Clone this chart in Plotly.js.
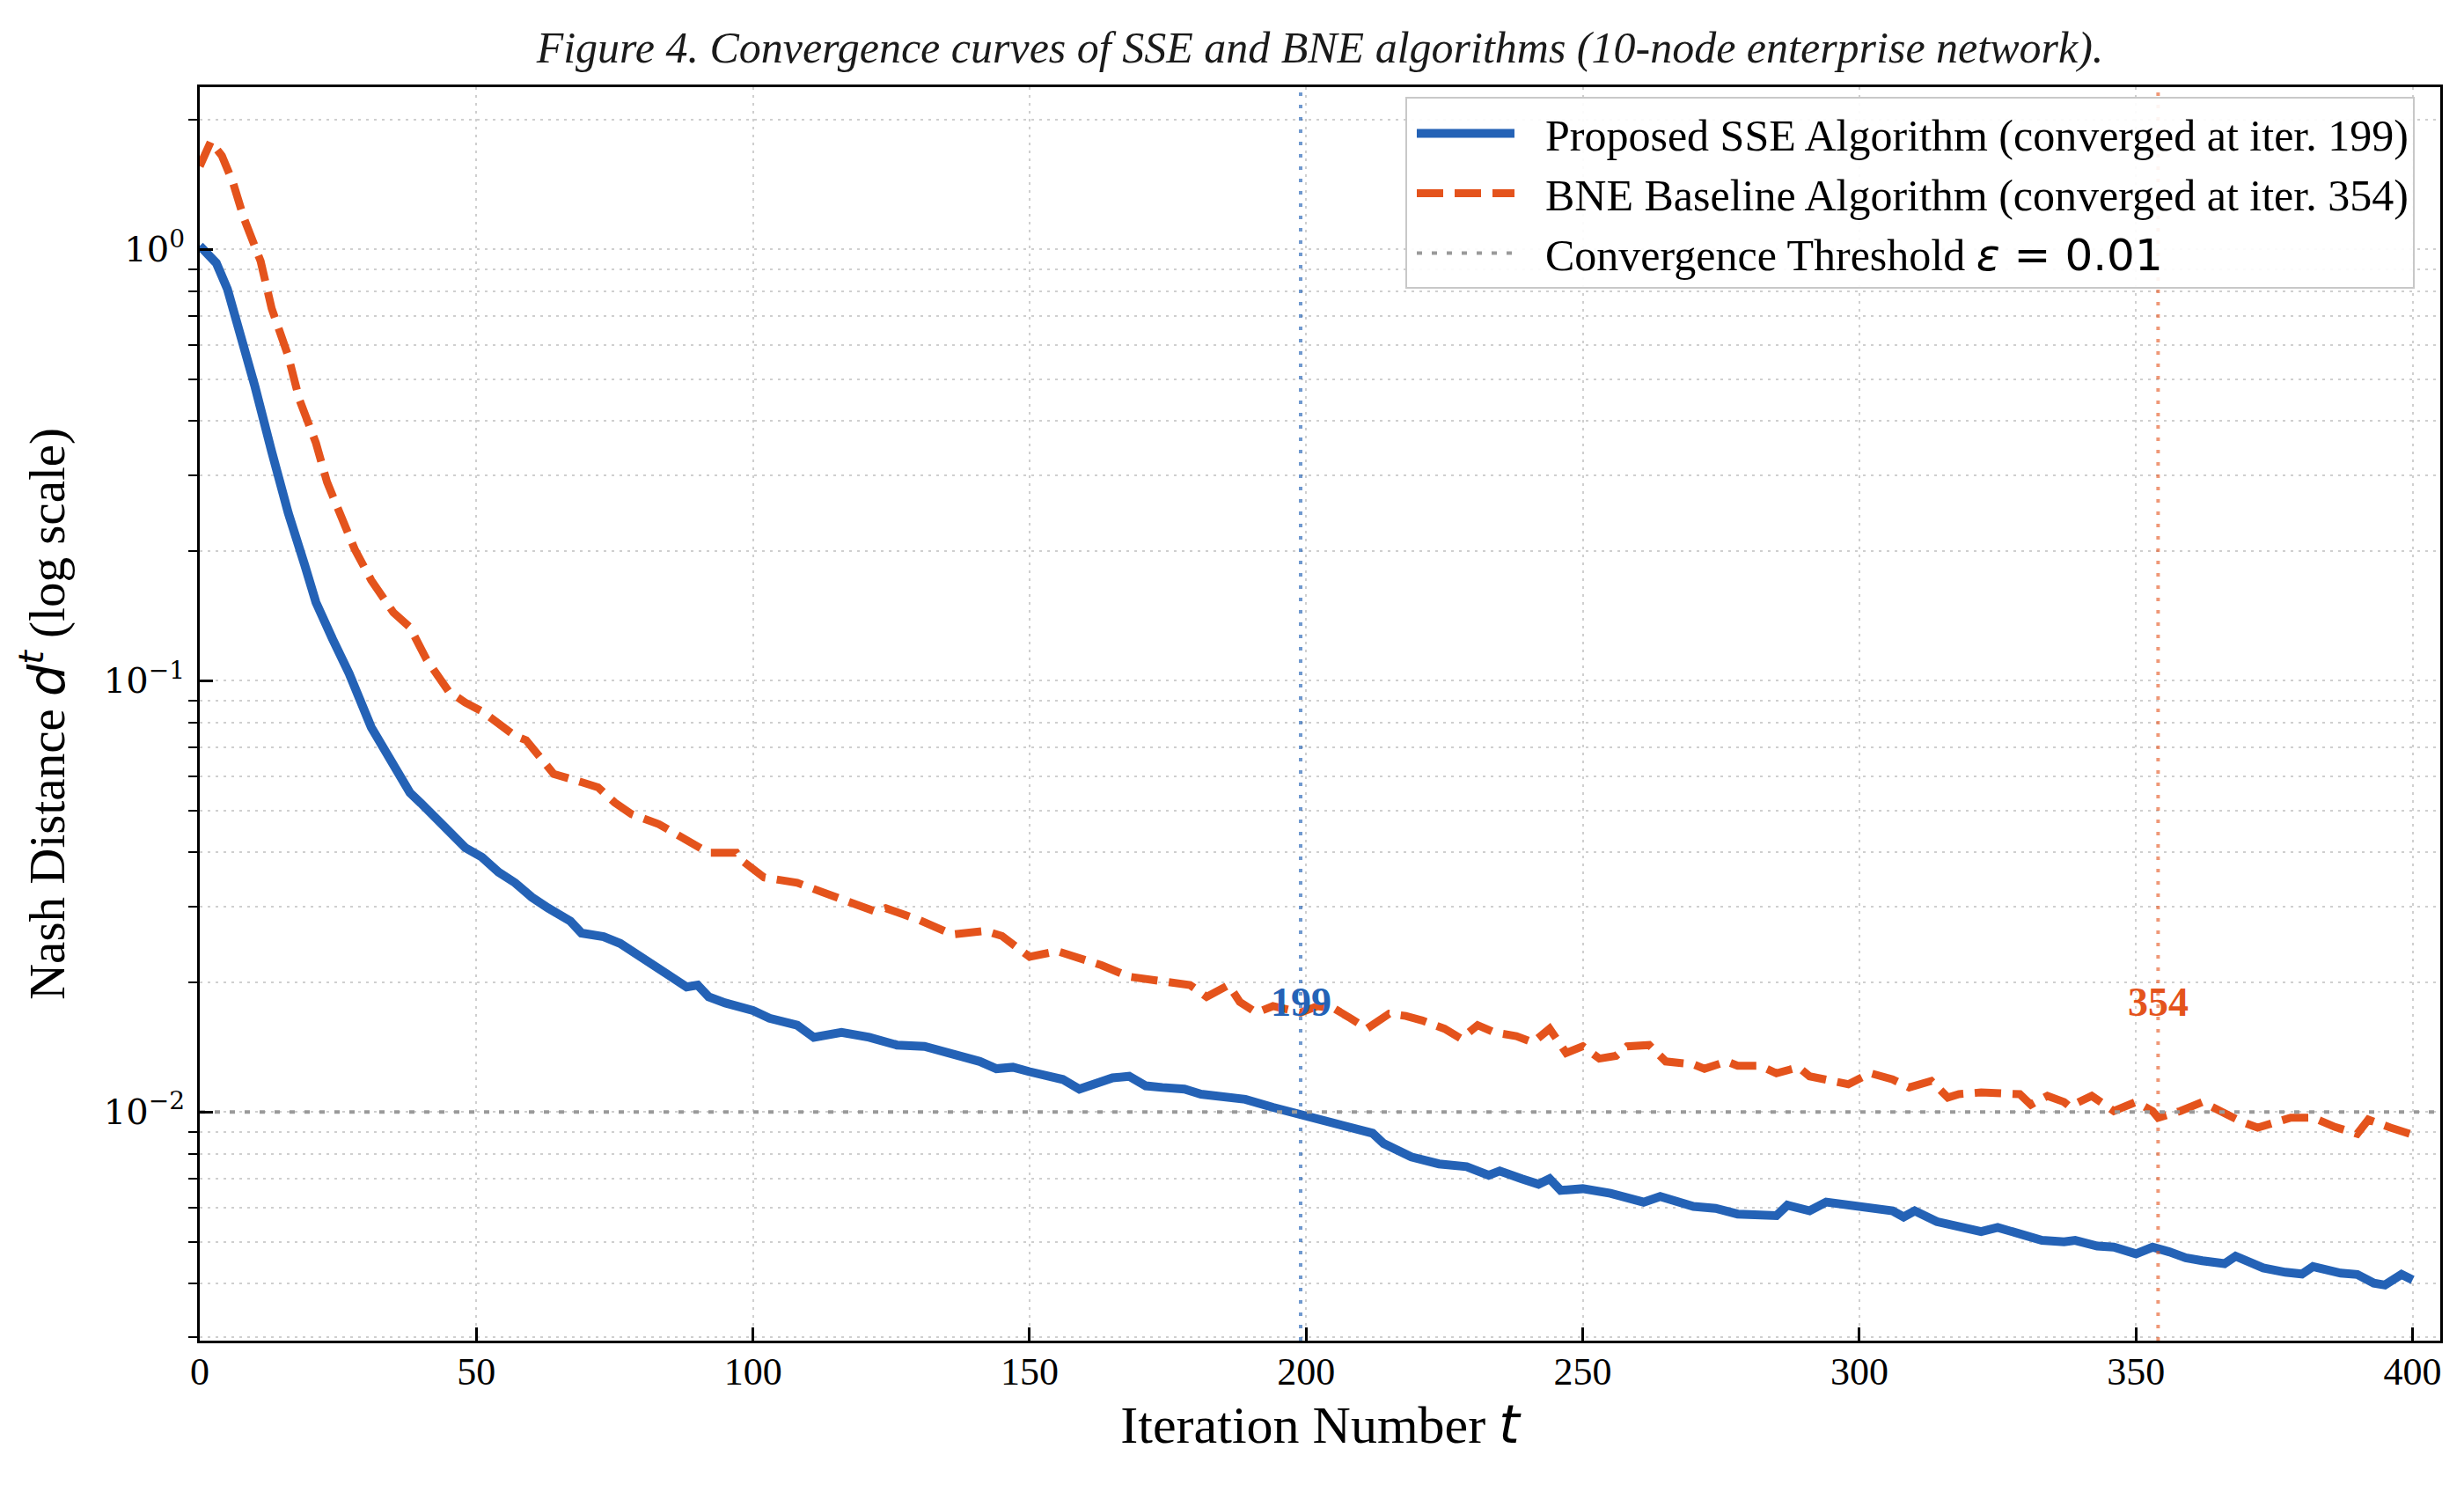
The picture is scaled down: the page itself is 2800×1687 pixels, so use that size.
<!DOCTYPE html>
<html>
<head>
<meta charset="utf-8">
<script src="https://cdn.plot.ly/plotly-3.0.1.min.js"></script>
<style>html,body{margin:0;padding:0;background:#fff;}#chart{width:2800px;height:1687px;}</style>
</head>
<body>
<div id="chart"></div>
<script>
// ---------------- data ----------------
const iterSSE = [0,3,5,7,10,13,16,19,21,24,27,31,35,38,40,42,45,48,51,54,57,60,63,67,69,73,76,80,84,88,90,92,95,100,103,108,111,116,121,126,131,136,138,141,144,147,150,153,156,159,162,165,168,171,174,178,181,186,189,194,199,204,209,212,214,219,224,229,233,235,239,242,244,246,250,255,261,264,270,274,278,283,285,287,291,294,298,302,306,308,310,314,318,322,325,329,333,337,339,343,346,350,353,356,359,362,366,368,373,377,380,382,387,390,393,395,398,400];
const distSSE = [1.02,0.93,0.81,0.66,0.48,0.34,0.245,0.185,0.152,0.125,0.104,0.078,0.064,0.055,0.052,0.049,0.045,0.041,0.039,0.036,0.034,0.0315,0.0297,0.0277,0.026,0.0255,0.0246,0.0227,0.0211,0.0195,0.0197,0.0185,0.0179,0.0172,0.0165,0.0159,0.0149,0.0153,0.0149,0.0143,0.0142,0.0136,0.0133,0.0131,0.0126,0.0127,0.0124,0.0121,0.0119,0.0113,0.0116,0.0120,0.0121,0.0115,0.0114,0.0113,0.0110,0.0108,0.0107,0.01025,0.00987,0.00954,0.00923,0.00893,0.00845,0.00787,0.00758,0.00747,0.00713,0.0073,0.0070,0.0068,0.0070,0.00658,0.00664,0.00648,0.00618,0.00637,0.00604,0.00598,0.0058,0.0058,0.00575,0.00608,0.0059,0.00618,0.0061,0.0060,0.0059,0.00571,0.0059,0.00557,0.0054,0.00528,0.0054,0.0052,0.00504,0.0050,0.00504,0.00489,0.00486,0.00469,0.00486,0.00474,0.00459,0.00452,0.00445,0.00463,0.00435,0.00425,0.00421,0.00438,0.00423,0.0042,0.00401,0.00397,0.0042,0.00408];

const iterBNE = [0,2,4,6,8,11,13,16,18,21,23,26,28,31,35,38,41,45,48,51,54,57,59,62,64,69,72,75,78,83,88,92,97,98,102,108,111,115,122,124,130,136,142,145,150,155,163,168,175,179,182,186,188,191,194,199,202,205,208,211,215,218,221,225,228,231,234,238,241,244,247,250,253,256,258,262,265,270,272,276,278,282,285,289,291,295,298,302,306,309,313,316,318,322,326,329,331,334,337,338,342,346,350,353,354,358,362,366,369,372,376,378,382,386,390,392,396,400];
const distBNE = [1.56,1.78,1.65,1.43,1.18,0.94,0.73,0.566,0.449,0.356,0.289,0.234,0.202,0.171,0.144,0.133,0.112,0.0945,0.089,0.085,0.080,0.0745,0.0728,0.0655,0.0608,0.0582,0.0566,0.0522,0.0491,0.0465,0.0426,0.0399,0.0399,0.0383,0.035,0.034,0.0329,0.0314,0.0292,0.0297,0.0279,0.0258,0.0263,0.0256,0.0229,0.0236,0.0219,0.0206,0.0199,0.0197,0.0185,0.0197,0.018,0.017,0.0176,0.0170,0.0176,0.0174,0.0165,0.0156,0.0169,0.0167,0.0163,0.0156,0.0148,0.0159,0.0153,0.015,0.0145,0.0156,0.0137,0.0142,0.0133,0.0135,0.0142,0.0143,0.0131,0.0129,0.0126,0.0131,0.0128,0.0128,0.0123,0.0127,0.0121,0.0118,0.0116,0.0123,0.0119,0.0114,0.0118,0.0108,0.011,0.0111,0.011,0.011,0.0104,0.0109,0.01055,0.0103,0.0109,0.01005,0.01055,0.01005,0.0097,0.01005,0.01055,0.00995,0.0095,0.0092,0.00955,0.0097,0.0097,0.00923,0.0089,0.0096,0.0092,0.00886];

const threshold = 0.01;
const convSSE = 199;
const convBNE = 354;
const convLabelY = 0.018;

const xRange = [0, 405];
const yRange = [0.00295, 2.38];
const xTickVals = [0, 50, 100, 150, 200, 250, 300, 350, 400];
const yTickVals = [0.01, 0.1, 1];
const yTickText = ['10<sup>\u22122</sup>', '10<sup>\u22121</sup>', '10<sup>0</sup>'];
const yMinorVals = [0.003,0.004,0.005,0.006,0.007,0.008,0.009,0.02,0.03,0.04,0.05,0.06,0.07,0.08,0.09,0.2,0.3,0.4,0.5,0.6,0.7,0.8,0.9,2];

const nameSSE = 'Proposed SSE Algorithm (converged at iter. ' + convSSE + ')';
const nameBNE = 'BNE Baseline Algorithm (converged at iter. ' + convBNE + ')';
const nameThr = 'Convergence Threshold <span style="font-family:DejaVu Sans;font-style:italic">\u03b5</span><span style="font-family:DejaVu Sans"> = 0.01</span>';

const titleText = 'Figure 4. Convergence curves of SSE and BNE algorithms (10-node enterprise network).';

// ---------------- styles ----------------
const BLUE = '#2462b6';
const ORANGE = '#e4531c';
const SERIF = 'Liberation Serif, Times New Roman, serif';
const GRID = '#cfcfcf';

const traces = [
  {x: iterSSE, y: distSSE, type: 'scatter', mode: 'lines', name: nameSSE,
   line: {color: BLUE, width: 10}},
  {x: iterBNE, y: distBNE, type: 'scatter', mode: 'lines', name: nameBNE,
   line: {color: ORANGE, width: 9, dash: '30px,13px'}},
  {x: xRange, y: [threshold, threshold], type: 'scatter', mode: 'lines', name: nameThr,
   line: {color: '#9a9a9a', width: 4, dash: '6px,11px'}}
];

const layout = {
  width: 2800, height: 1687,
  paper_bgcolor: '#ffffff', plot_bgcolor: '#ffffff',
  margin: {l: 227, r: 27, t: 99, b: 164},
  font: {family: SERIF, color: '#000', size: 44},
  title: {text: titleText, x: 0.5, xref: 'paper', xanchor: 'center',
          y: 1 - 53/1687, yref: 'container', yanchor: 'middle',
          font: {family: SERIF, size: 50, style: 'italic', color: '#1a1a1a'}},
  showlegend: true,
  legend: {x: 0.9886, xanchor: 'right', y: 0.992, yanchor: 'top',
           bgcolor: 'rgba(255,255,255,0.9)', bordercolor: '#c8c8c8', borderwidth: 2,
           itemwidth: 147,
           font: {family: SERIF, size: 50, color: '#000'}, tracegroupgap: 8},
  xaxis: {
    range: xRange, tickmode: 'array', tickvals: xTickVals,
    ticks: 'inside', ticklen: 15, tickwidth: 3, tickcolor: '#000',
    showline: true, linewidth: 3, linecolor: '#000', mirror: true,
    showgrid: true, gridcolor: GRID, gridwidth: 2, griddash: '3px,6px',
    zeroline: false, ticklabelstandoff: -6,
    tickfont: {family: SERIF, size: 44, color: '#000'},
    title: {text: 'Iteration Number <span style="font-family:DejaVu Sans;font-style:italic">t</span>',
            font: {family: SERIF, size: 60, color: '#000'}, standoff: 16}
  },
  yaxis: {
    type: 'log', range: [Math.log10(yRange[0]), Math.log10(yRange[1])],
    tickmode: 'array', tickvals: yTickVals, ticktext: yTickText,
    ticks: 'inside', ticklen: 15, tickwidth: 3, tickcolor: '#000',
    showline: true, linewidth: 3, linecolor: '#000', mirror: true,
    showgrid: true, gridcolor: GRID, gridwidth: 2, griddash: '3px,6px',
    zeroline: false, ticklabelstandoff: 6,
    tickfont: {family: 'DejaVu Serif', size: 40, color: '#000'},
    minor: {tickmode: 'array', tickvals: yMinorVals, ticks: 'outside', ticklen: 10,
            tickwidth: 2, tickcolor: '#000', showgrid: true, gridcolor: GRID,
            gridwidth: 2, griddash: '3px,6px'},
    title: {text: 'Nash Distance <span style="font-family:DejaVu Sans;font-style:italic">d<sup>t</sup></span> (log scale)',
            font: {family: SERIF, size: 57, color: '#000'}, standoff: 26}
  },
  shapes: [
    {type: 'line', xref: 'x', yref: 'paper', x0: convSSE, x1: convSSE, y0: 0, y1: 1,
     line: {color: 'rgba(36,98,182,0.65)', width: 4, dash: '4px,10px'}},
    {type: 'line', xref: 'x', yref: 'paper', x0: convBNE, x1: convBNE, y0: 0, y1: 1,
     line: {color: 'rgba(228,83,28,0.6)', width: 4, dash: '4px,10px'}}
  ],
  annotations: [
    {x: convSSE, y: Math.log10(convLabelY), xref: 'x', yref: 'y', text: '<b>' + convSSE + '</b>',
     showarrow: false, font: {family: SERIF, size: 46, color: BLUE}, xanchor: 'center', yanchor: 'middle'},
    {x: convBNE, y: Math.log10(convLabelY), xref: 'x', yref: 'y', text: '<b>' + convBNE + '</b>',
     showarrow: false, font: {family: SERIF, size: 46, color: ORANGE}, xanchor: 'center', yanchor: 'middle'}
  ]
};

Plotly.newPlot('chart', traces, layout, {displayModeBar: false, staticPlot: true}).then(function (gd) {
  // lengthen the legend line samples to match the reference's long handles
  gd.querySelectorAll('.legend .legendlines path').forEach(function (p) {
    p.setAttribute('d', 'M11,0h111');
  });
});
</script>
</body>
</html>
